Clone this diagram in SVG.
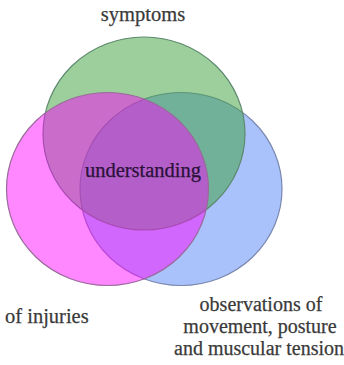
<svg xmlns="http://www.w3.org/2000/svg" width="344" height="365" viewBox="0 0 344 365">
<style>
.c{stroke-width:1.2}
.t{font-family:"Liberation Serif","Times New Roman",serif;font-size:20.5px;fill:#3a3a3a;stroke:#3a3a3a;stroke-width:0.25}
.r{font-size:20px}
</style>
<rect width="344" height="365" fill="#ffffff"/>
<g id="circle-observations">
<ellipse class="c" cx="181" cy="189" rx="101" ry="96.5" fill="rgb(83,133,247)" fill-opacity="0.5" stroke="#7a88b0"/>
</g>
<g id="circle-symptoms">
<ellipse class="c" cx="144" cy="133.5" rx="101" ry="96.5" fill="rgb(57,159,57)" fill-opacity="0.5" stroke="#5e8a6e"/>
</g>
<g id="circle-injuries">
<ellipse class="c" cx="107.5" cy="189" rx="101" ry="96.5" fill="#ff00ff" fill-opacity="0.47" stroke="#9a6a9a"/>
</g>
<g id="labels">
<text class="t" x="143" y="21" text-anchor="middle">symptoms</text>
<text class="t" x="143" y="177" text-anchor="middle" style="fill:#2a1238;stroke:#2a1238">understanding</text>
<text class="t" x="5" y="323">of injuries</text>
<text class="t r" x="261" y="311" text-anchor="middle">observations of</text>
<text class="t r" x="260" y="333" text-anchor="middle">movement, posture</text>
<text class="t r" x="259" y="355" text-anchor="middle">and muscular tension</text>
</g>
</svg>
